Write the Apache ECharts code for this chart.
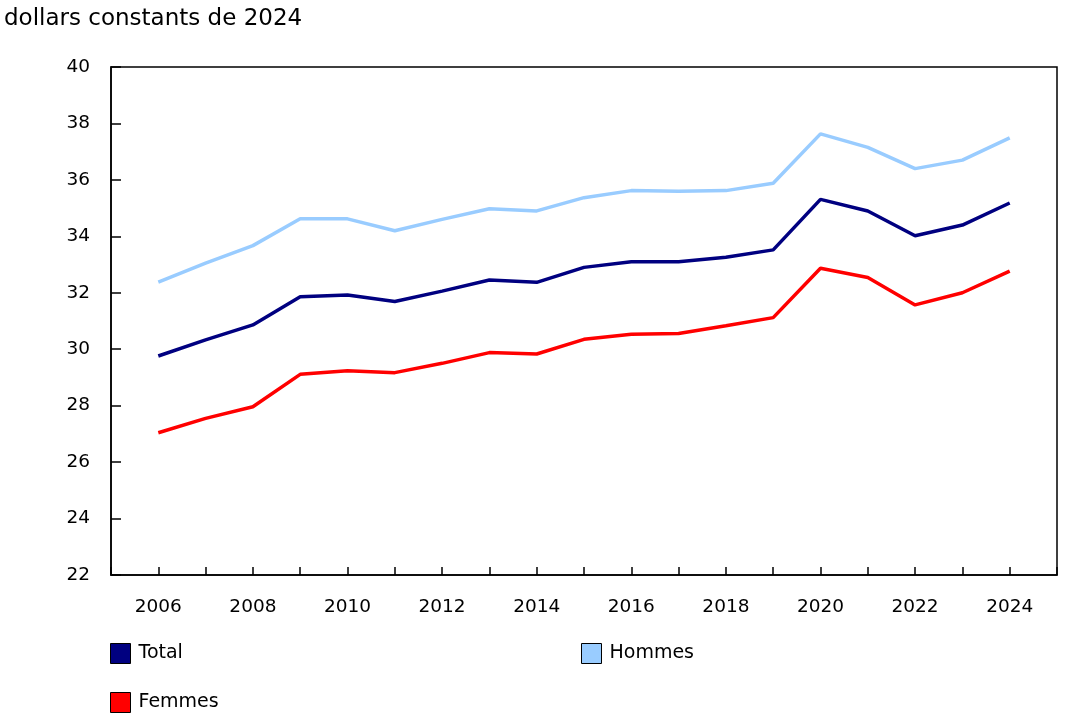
<!DOCTYPE html>
<html>
<head>
<meta charset="utf-8">
<script src="https://cdn.jsdelivr.net/npm/echarts@6/dist/echarts.min.js"></script>
<style>
html,body{margin:0;padding:0;background:#fff;}
#chart{width:1078px;height:727px;}
</style>
</head>
<body>
<div id="chart"></div>
<script>
const years = [2006,2007,2008,2009,2010,2011,2012,2013,2014,2015,2016,2017,2018,2019,2020,2021,2022,2023,2024];
const total = [29.76,30.33,30.86,31.86,31.92,31.69,32.06,32.45,32.37,32.9,33.1,33.1,33.26,33.52,35.31,34.9,34.02,34.4,35.18];
const hommes = [32.38,33.05,33.67,34.62,34.62,34.2,34.6,34.98,34.9,35.37,35.62,35.6,35.62,35.88,37.63,37.15,36.4,36.7,37.49];
const femmes = [27.04,27.55,27.96,29.11,29.24,29.17,29.5,29.88,29.83,30.35,30.53,30.56,30.83,31.12,32.87,32.54,31.57,32.0,32.77];
const seriesNames = ['Total','Hommes','Femmes'];
const colors = ['#000080','#99CCFF','#FF0000'];
const titleText = 'dollars constants de 2024';

const FONT = 'DejaVu Sans, Verdana, sans-serif';
const chart = echarts.init(document.getElementById('chart'), null, {renderer:'canvas'});

function pairs(vals){ return years.map((y,i)=>[y, vals[i]]); }
const dataSets = [total, hommes, femmes];

function legendFor(name, left, top){
  return {
    data:[name], left:left, top:top, padding:0, orient:'horizontal',
    icon:'rect', itemWidth:20, itemHeight:20,
    itemStyle:{borderColor:'#000', borderWidth:1},
    textStyle:{fontFamily:FONT, fontSize:19, color:'#000', padding:[4,0,0,3]},
    selectedMode:false
  };
}

chart.setOption({
  animation:false,
  backgroundColor:'#fff',
  title:{text:titleText, left:4, top:8, padding:0,
    textStyle:{fontFamily:FONT, fontSize:23, fontWeight:'normal', color:'#000'}},
  legend:[legendFor('Total',110,643), legendFor('Hommes',581,643), legendFor('Femmes',110,692)],
  grid:{left:111, right:21, top:67, bottom:152, show:true, borderColor:'#000', borderWidth:1.5, containLabel:false},
  xAxis:{type:'value', min:2005, max:2025, interval:1,
    axisLine:{show:true, lineStyle:{color:'#000', width:1.5}},
    axisTick:{show:true, inside:true, length:8, lineStyle:{color:'#000', width:1.5}},
    splitLine:{show:false},
    axisLabel:{margin:23, fontFamily:FONT, fontSize:18.5, color:'#000',
      formatter:function(v){ return (v%2===0)? String(v) : ''; }}
  },
  yAxis:{type:'value', min:22, max:40, interval:2,
    axisLine:{show:true, lineStyle:{color:'#000', width:1.5}},
    axisTick:{show:true, inside:true, length:10, lineStyle:{color:'#000', width:1.5}},
    splitLine:{show:false},
    axisLabel:{margin:21, fontFamily:FONT, fontSize:18.5, color:'#000', padding:[6,0,0,0]}
  },
  series: seriesNames.map((n,i)=>({
    name:n, type:'line', data:pairs(dataSets[i]), showSymbol:false, symbol:'none',
    lineStyle:{color:colors[i], width:3.5}, itemStyle:{color:colors[i]}
  }))
});
</script>
</body>
</html>
